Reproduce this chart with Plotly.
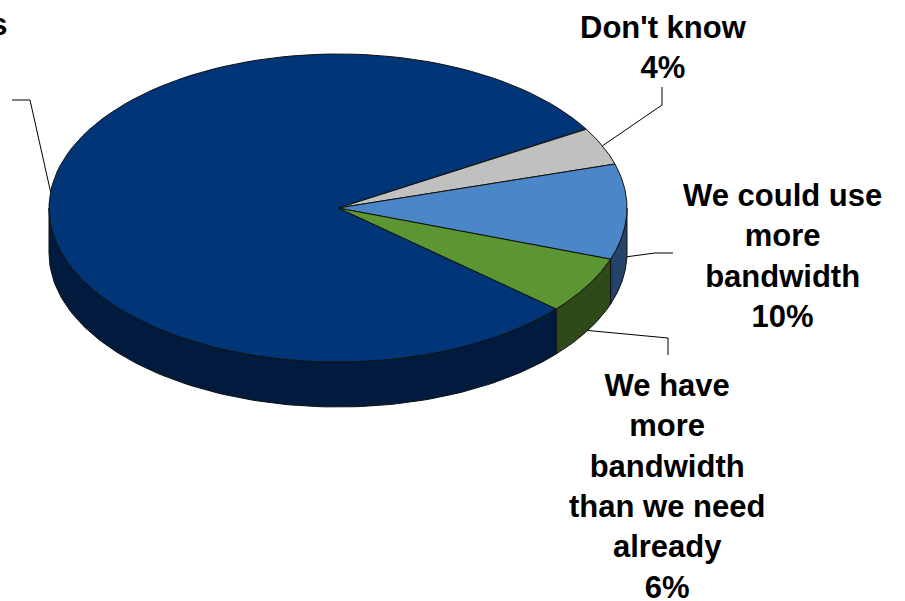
import numpy as np
import plotly.graph_objects as go

# Survey answers, listed clockwise from the start angle
categories = [
    "Don't know",
    "We could use more bandwidth",
    "We have more bandwidth than we need already",
    "We have enough bandwidth for our needs",
]
label_text = [
    "Don't know",
    "We could use<br>more<br>bandwidth",
    "We have<br>more<br>bandwidth<br>than we need<br>already",
    "We have<br>enough<br>bandwidth for<br>our needs",
]
percent = [4, 10, 6, 80]

top_colors = ["#c0c0c0", "#4a86c8", "#5b9632", "#003578"]
side_colors = ["#8a8a8a", "#24436a", "#2e4a19", "#001b3d"]

# Pie geometry in screen pixels (tilted disc)
W, H = 905, 601
CX, CY = 338, 208
RX, RY = 289, 154
DEPTH = 45
START_DEG = 31.0

FONT = dict(family="Liberation Sans, Arial, sans-serif", size=31, color="#000000")
EDGE = dict(color="#111111", width=1)


def ellipse_pt(t_deg, drop=0.0):
    t = np.radians(t_deg)
    return CX + RX * np.cos(t), CY - RY * np.sin(t) + drop


def arc(a, b, drop=0.0, n=120):
    ts = np.linspace(a, b, n)
    return ellipse_pt(ts, drop)


# slice angle spans (clockwise => decreasing angle)
spans = []
cum = 0.0
for v in percent:
    a = START_DEG - cum * 3.6
    b = a - v * 3.6
    spans.append((a, b))
    cum += v

fig = go.Figure()

# front walls: the part of each slice lying in the lower half (-180..0 deg)
for (a, b), col in zip(spans, side_colors):
    hi = min(a, 0.0)
    lo = max(b, -180.0)
    if hi <= lo:
        continue
    xt, yt = arc(hi, lo)
    xb, yb = arc(lo, hi, DEPTH)
    fig.add_trace(go.Scatter(
        x=np.concatenate([xt, xb, xt[:1]]), y=np.concatenate([yt, yb, yt[:1]]),
        mode="lines", fill="toself", fillcolor=col, line=EDGE,
        hoverinfo="skip", showlegend=False))

# top faces
for (a, b), col in zip(spans, top_colors):
    xs, ys = arc(a, b)
    fig.add_trace(go.Scatter(
        x=np.concatenate([[CX], xs, [CX]]), y=np.concatenate([[CY], ys, [CY]]),
        mode="lines", fill="toself", fillcolor=col, line=EDGE,
        hoverinfo="skip", showlegend=False))

# label placement: block centre (px), leader anchor angle, anchor on wall bottom?, leader path
label_pos = [(663, 47), (782, 256), (667, 487), (-67, -16)]
leader_anchor = [
    (None, False, [(662, 105), (662, 87)]),
    (None, True, [(655, 253), (673, 253)]),
    (None, True, [(668, 338), (668, 355)]),
    (174.0, False, [(30, 100), (12, 100)]),
]

for i, ((a, b), (lx, ly)) in enumerate(zip(spans, label_pos)):
    t_anchor, on_wall, path = leader_anchor[i]
    t = (a + b) / 2 if t_anchor is None else t_anchor
    sx, sy = ellipse_pt(t, DEPTH if on_wall else 0.0)
    px = [sx] + [p[0] for p in path]
    py = [sy] + [p[1] for p in path]
    fig.add_trace(go.Scatter(x=px, y=py, mode="lines",
                             line=dict(color="#000000", width=1),
                             hoverinfo="skip", showlegend=False))
    fig.add_annotation(
        text=f"<b>{label_text[i]}<br>{percent[i]}%</b>",
        xref="paper", yref="paper", x=lx / W, y=1 - ly / H,
        xanchor="center", yanchor="middle", align="center",
        showarrow=False, font=FONT)

fig.update_layout(
    width=W, height=H,
    margin=dict(l=0, r=0, t=0, b=0),
    paper_bgcolor="#ffffff", plot_bgcolor="#ffffff",
    xaxis=dict(range=[0, W], visible=False, fixedrange=True),
    yaxis=dict(range=[H, 0], visible=False, fixedrange=True),
)

fig.write_html("out.html")
